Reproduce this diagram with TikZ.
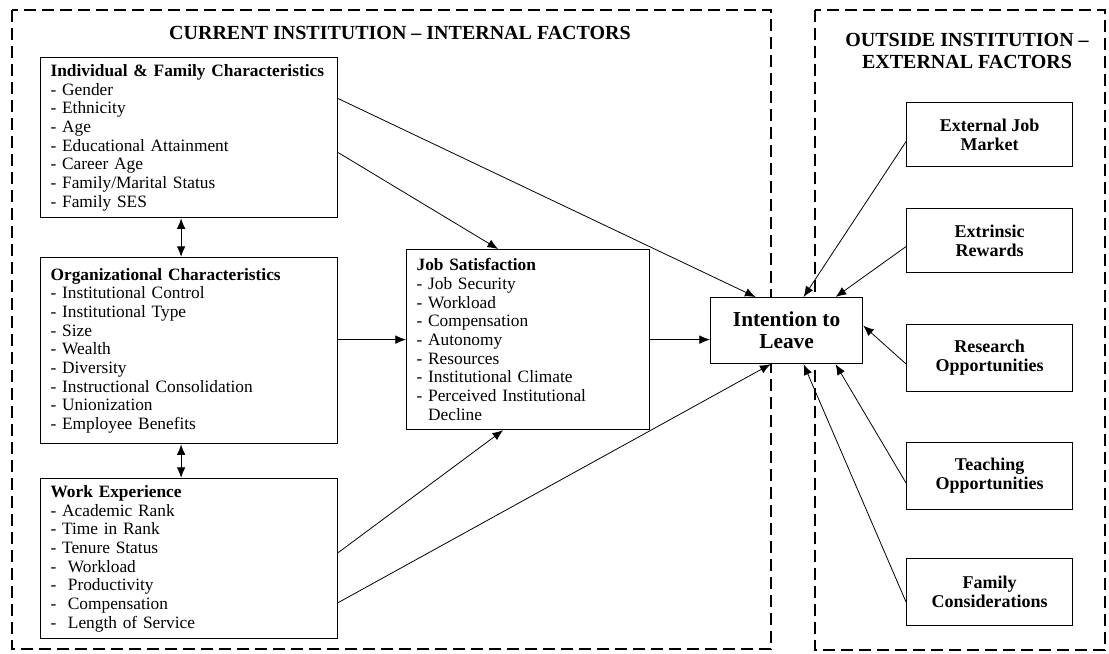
\documentclass[tikz,border=0pt]{standalone}
\usepackage{fontspec}
\setmainfont{Liberation Serif}
\usetikzlibrary{arrows.meta, calc}

\tikzset{
  listbox/.style={draw, line width=0.9pt, anchor=north west, align=left,
    inner xsep=7.5pt, font=\fontsize{13}{14}\selectfont},
  factorbox/.style={draw, line width=0.9pt, anchor=north west, align=center,
    minimum width=124.5pt, minimum height=48pt,
    font=\bfseries\fontsize{13.5}{14.5}\selectfont},
  frame/.style={dash pattern=on 9pt off 4.5pt, line width=1.5pt},
  heading/.style={font=\bfseries\fontsize{15}{16.5}\selectfont, align=center},
  link/.style={-{Latex[length=8pt,width=6.5pt]}, line width=0.6pt},
  twoway/.style={{Latex[length=8pt,width=6.5pt]}-{Latex[length=8pt,width=6.5pt]}, line width=0.9pt}
}

\begin{document}
\begin{tikzpicture}[x=0.75pt, y=-0.75pt]
      \useasboundingbox (0,0) rectangle (1109,653);

      % Draw the two dashed frames
      \draw[frame] (12,10) rectangle (771,649);
      \draw[frame] (815,10) rectangle (1105,650);
      \node[heading] (inhead) at (400,33) {CURRENT INSTITUTION -- INTERNAL FACTORS};
      \node[heading] (outhead) at (967,51) {OUTSIDE INSTITUTION --\\EXTERNAL FACTORS};

      % Internal factor boxes
      \node[listbox, text width=207.75pt, minimum height=120pt] (indiv) at (40,57)
        {\textbf{Individual \& Family Characteristics}\\
         - Gender\\- Ethnicity\\- Age\\- Educational Attainment\\- Career Age\\
         - Family/Marital Status\\- Family SES};
      \node[listbox, text width=207.75pt, minimum height=139.5pt] (org) at (40,257)
        {\textbf{Organizational Characteristics}\\
         - Institutional Control\\- Institutional Type\\- Size\\- Wealth\\- Diversity\\
         - Instructional Consolidation\\- Unionization\\- Employee Benefits};
      \node[listbox, text width=207.75pt, minimum height=120pt] (work) at (40,478)
        {\textbf{Work Experience}\\
         - Academic Rank\\- Time in Rank\\- Tenure Status\\-~ Workload\\-~ Productivity\\
         -~ Compensation\\-~ Length of Service};
      \node[listbox, text width=167.25pt, minimum height=135pt] (jobsat) at (406,249)
        {\textbf{Job Satisfaction}\\
         - Job Security\\- Workload\\- Compensation\\- Autonomy\\- Resources\\
         - Institutional Climate\\- Perceived Institutional\\\phantom{- }Decline};

      % Outcome box, sitting over both frames
      \node[draw, fill=white, line width=0.9pt, anchor=north west, align=center,
        minimum width=114pt, minimum height=49.5pt,
        font=\bfseries\fontsize{16}{16.5}\selectfont]
        (leave) at (710,297) {Intention to\\Leave};

      % External factor boxes
      \node[factorbox] (jobmkt) at (906,102) {External Job\\Market};
      \node[factorbox] (rewards) at (906,208) {Extrinsic\\Rewards};
      \node[factorbox, minimum height=50pt] (research) at (906,324) {Research\\Opportunities};
      \node[factorbox, minimum height=50pt] (teaching) at (906,442) {Teaching\\Opportunities};
      \node[factorbox, minimum height=50pt] (family) at (906,558) {Family\\Considerations};

      % Links between the internal boxes
      \draw[twoway] ($(indiv.south)+(-8,0)$) -- ($(org.north)+(-8,0)$);
      \draw[twoway] ($(org.south)+(-8,0)$) -- ($(work.north)+(-8,0)$);
      \draw[link] (org.east |- jobsat.west) -- (jobsat.west);
      \draw[link] ($(indiv.east)+(0,15)$) -- ($(jobsat.north)+(-30,0)$);
      \draw[link] ($(work.east)+(0,-6)$) -- ($(jobsat.south)+(-25,0)$);

      % Links into the outcome
      \draw[link] ($(indiv.east)+(0,-39)$) -- ($(leave.north)+(-31,0)$);
      \draw[link] (jobsat.east) -- (jobsat.east -| leave.west);
      \draw[link] ($(work.east)+(0,44)$) -- ($(leave.south)+(-16,0)$);
      \draw[link] ($(jobmkt.west)+(0,7)$) -- ($(leave.north)+(17,0)$);
      \draw[link] ($(rewards.west)+(0,6)$) -- ($(leave.north)+(49,0)$);
      \draw[link] ($(research.west)+(0,6)$) -- ($(leave.east)+(0,-5)$);
      \draw[link] ($(teaching.west)+(0,7)$) -- ($(leave.south)+(49,0)$);
      \draw[link] ($(family.west)+(0,10)$) -- ($(leave.south)+(17,0)$);
\end{tikzpicture}
\end{document}
